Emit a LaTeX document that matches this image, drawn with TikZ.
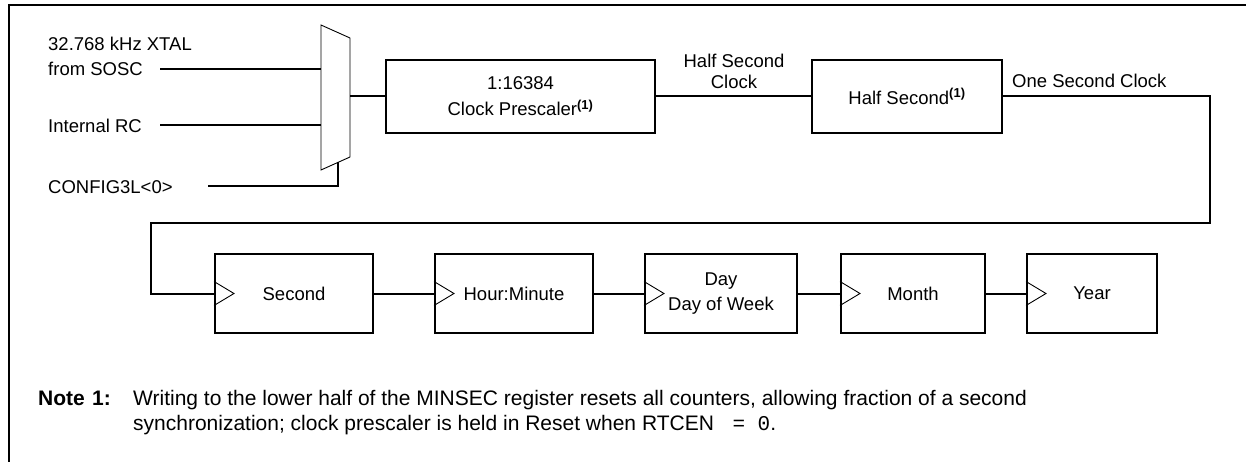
\documentclass[tikz,border=0pt]{standalone}
\usepackage{fontspec}
\setmainfont{Liberation Sans}
\setmonofont{Liberation Mono}
\begin{document}
\begin{tikzpicture}[x=1pt,y=-1pt,
  lbl/.style={font=\fontsize{18.5}{26}\selectfont, inner sep=0pt},
  blk/.style={draw, line width=2pt, inner sep=0pt, align=center,
              font=\fontsize{18.5}{26}\selectfont},
  wire/.style={line width=2pt},
  thinl/.style={line width=0.9pt},
  frame/.style={line width=2.8pt},
  notef/.style={font=\fontsize{21}{25}\selectfont, inner sep=0pt}
]
\useasboundingbox (0,0) rectangle (1246,462);

% frame (top and left)
\coordinate (fTL) at (9,5);
\coordinate (fTR) at (1250,5);
\coordinate (fBL) at (9,466);
\draw[frame] (fTR) -- (fTL) -- (fBL);

% input labels
\node[lbl, anchor=base west] (xtal) at (48,50.5) {32.768 kHz XTAL};
\node[lbl, anchor=base west] (sosc) at (48,75.5) {from SOSC};
\node[lbl, anchor=base west] (irc) at (48,132.5) {Internal RC};
\node[lbl, anchor=base west] (cfg) at (48,194) {CONFIG3L<0>};

% mux
\coordinate (mA) at (321,25);
\coordinate (mB) at (350,38);
\coordinate (mC) at (350,157);
\coordinate (mD) at (321,170);
\draw[thinl] (mA) -- (mB) -- (mC) -- (mD) -- cycle;
\coordinate (in1) at (321,69);
\coordinate (in2) at (321,125);
\coordinate (s1) at (160,69);
\coordinate (s2) at (160,125);
\coordinate (s3) at (208,186);
\coordinate (sel) at (338,162.4);
\coordinate (mout) at (350,96.5);
\draw[wire] (s1) -- (in1);
\draw[wire] (s2) -- (in2);
\draw[wire] (s3) -| (sel);

% top blocks
\node[blk, minimum width=269pt, minimum height=73pt] (pre) at (520.5,96.5)
  {1:16384\\Clock Prescaler\textsuperscript{\bfseries (1)}};
\node[blk, minimum width=190pt, minimum height=73pt] (hs) at (907,96.5)
  {Half Second\textsuperscript{\bfseries (1)}};

\draw[wire] (mout) -- (pre.west);
\draw[wire] (pre.east) -- (hs.west);
\node[lbl, anchor=base] (hsc1) at (734,68) {Half Second};
\node[lbl, anchor=base] (hsc2) at (734,89) {Clock};
\node[lbl, anchor=base west] (osc) at (1012,88) {One Second Clock};

% bottom row
\node[blk, minimum width=158pt, minimum height=79pt] (sec) at (294,293.5) {Second};
\node[blk, minimum width=158pt, minimum height=79pt] (hm) at (514,293.5) {Hour:Minute};
\node[blk, minimum width=152pt, minimum height=79pt, font=\fontsize{18.5}{25}\selectfont] (day) at (721,293.5) {Day\\Day of Week};
\node[blk, minimum width=144pt, minimum height=79pt] (mon) at (913,293.5) {Month};
\node[blk, minimum width=130pt, minimum height=79pt] (yr) at (1092,293.5) {Year};

\coordinate (r1) at (1210,223);
\coordinate (r2) at (151,223);
\draw[wire] (hs.east) -| (r1) -- (r2) |- (sec.west);
\draw[wire] (sec.east) -- (hm.west);
\draw[wire] (hm.east) -- (day.west);
\draw[wire] (day.east) -- (mon.west);
\draw[wire] (mon.east) -- (yr.west);

\foreach \b in {sec,hm,day,mon,yr}{
  \draw[thinl] ([yshift=12pt]\b.west) -- ([xshift=20pt]\b.west) -- ([yshift=-12pt]\b.west);
}

% note
\node[notef, anchor=base west] (nt) at (38,405) {\bfseries Note};
\node[notef, anchor=base west] (nn) at (92,405) {\bfseries 1:};
\node[notef, anchor=base west] (n1) at (133,405)
  {Writing to the lower half of the MINSEC register resets all counters, allowing fraction of a second};
\node[notef, anchor=base west] (n2) at (133,430)
  {synchronization; clock prescaler is held in Reset when RTCEN \texttt{ = 0}.};
\end{tikzpicture}
\end{document}
